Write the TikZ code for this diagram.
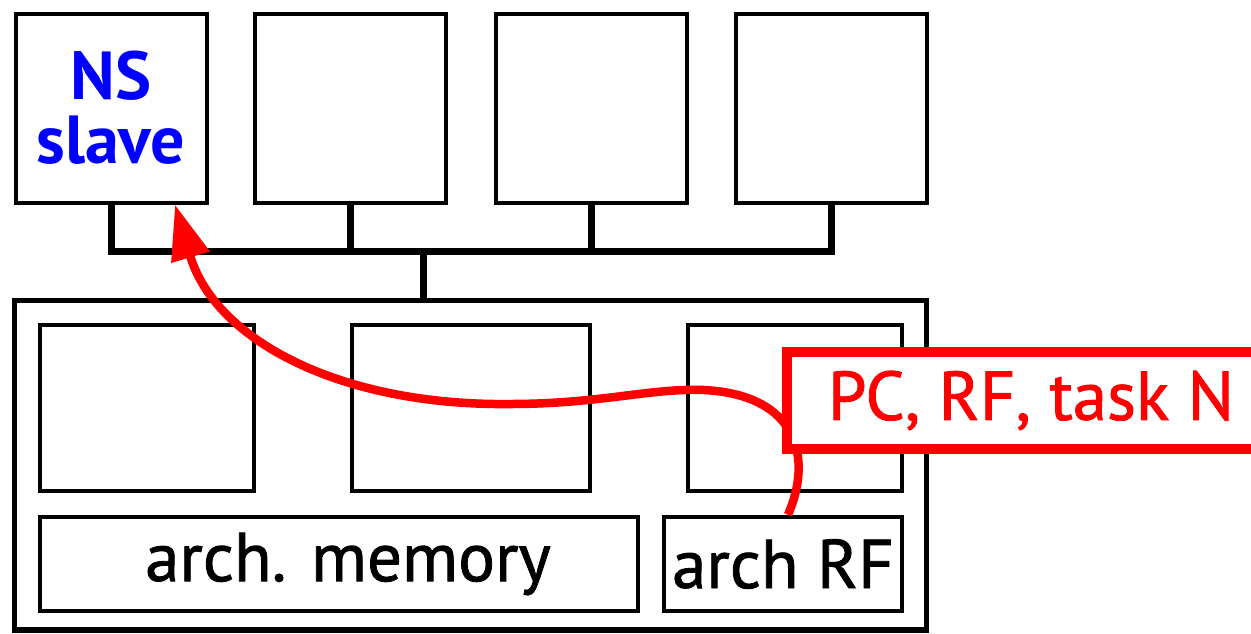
\documentclass[tikz,border=0pt]{standalone}
\usepackage{fontspec}
\setmainfont{PT Sans}
\newfontfamily\medfont[FakeBold=1.2]{PT Sans}
\usetikzlibrary{arrows.meta}
\begin{document}
\begin{tikzpicture}[x=1pt,y=-1pt,
  topbox/.style={draw, line width=4pt, minimum width=191pt, minimum height=189pt, inner sep=0pt, fill=white},
  inbox/.style={draw, line width=4pt, inner sep=0pt},
  bus/.style={line width=7pt, line join=miter},
  bigbox/.style={draw, line width=5.5pt, minimum width=912pt, minimum height=329.5pt, inner sep=0pt},
  bigtext/.style={font=\medfont\fontsize{69}{69}\selectfont},
  flow/.style={draw=red, line width=8.5pt, -{Triangle[length=55pt,width=38pt]}},
  tag/.style={draw=red, fill=white, line width=10pt, text=red, minimum width=488pt, minimum height=97pt, inner sep=0pt}]
\clip (0,0) rectangle (1251,633);
\fill[white] (0,0) rectangle (1251,633);
% top processors
\node[topbox, text=blue, align=center, font=\fontsize{68}{64}\selectfont\bfseries] (b1) at (111,108) {NS\\slave};
\node[topbox] (b2) at (350,108) {};
\node[topbox] (b3) at (591,108) {};
\node[topbox] (b4) at (831,108) {};
% bus
\coordinate (busL) at (111,251);
\coordinate (busM) at (423,251);
\draw[bus] (b1.south) -- (b1.south |- busL) -- (b4.south |- busL) -- (b4.south);
\draw[bus] (b2.south) -- (b2.south |- busL);
\draw[bus] (b3.south) -- (b3.south |- busL);
% big box
\node[bigbox] (big) at (470.5,465.25) {};
\draw[bus] (busM) -- (busM |- big.north);
% inner boxes
\node[inbox, minimum width=214.5pt, minimum height=166.5pt] (i1) at (147,408) {};
\node[inbox, minimum width=238.5pt, minimum height=166.5pt] (i2) at (471,408) {};
\node[inbox, minimum width=214.5pt, minimum height=166.5pt] (i3) at (795,408) {};
\node[inbox, bigtext, minimum width=598.5pt, minimum height=94.5pt] (mem) at (339,564) {\hspace{18pt}\raisebox{-4pt}{arch. memory}};
\node[inbox, bigtext, minimum width=238.5pt, minimum height=94.5pt] (rf) at (783,564) {\raisebox{-3pt}{arch RF}};
% red flow
\coordinate (s) at ([xshift=5pt]rf.north);
\draw[flow] (s) .. controls (812,460) and (800,395) .. (704,390)
  .. controls (650,388) and (600,404) .. (510,404)
  .. controls (340,406) and (215,340) .. (b1.south -| 175,0);
% tag
\node[tag, bigtext] (tag) at (1031,400.5) {\raisebox{-7pt}{PC, RF, task N}};
\end{tikzpicture}
\end{document}
